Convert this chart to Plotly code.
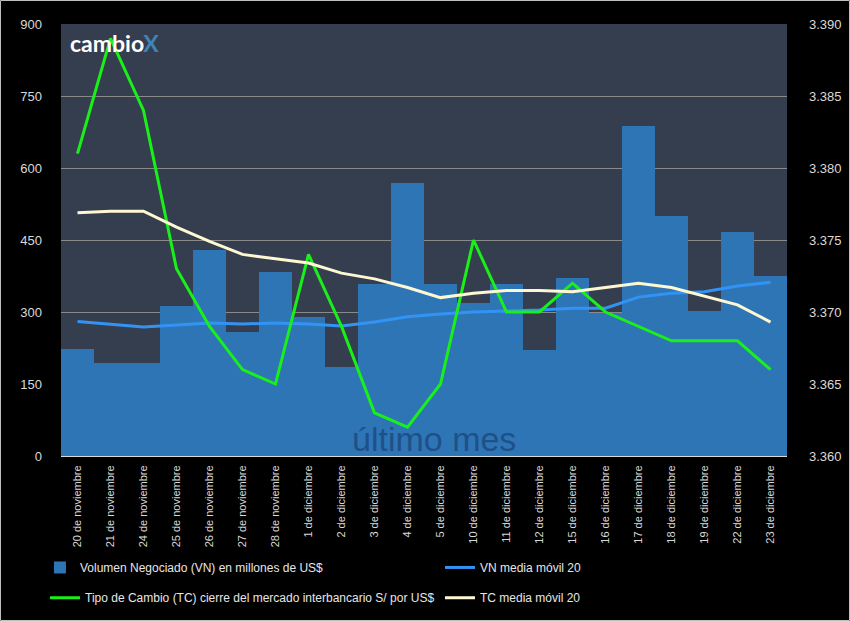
import plotly.graph_objects as go

fechas = ["20 de noviembre", "21 de noviembre", "24 de noviembre", "25 de noviembre",
          "26 de noviembre", "27 de noviembre", "28 de noviembre", "1 de diciembre",
          "2 de diciembre", "3 de diciembre", "4 de diciembre", "5 de diciembre",
          "10 de diciembre", "11 de diciembre", "12 de diciembre", "15 de diciembre",
          "16 de diciembre", "17 de diciembre", "18 de diciembre", "19 de diciembre",
          "22 de diciembre", "23 de diciembre"]

volumen = [223, 194, 194, 313, 429, 259, 383, 290, 185, 358, 569, 358,
           319, 358, 221, 371, 298, 688, 499, 303, 467, 375]

vn_media = [280, 274, 269, 273, 277, 275, 277, 275, 271, 279, 290, 296,
            300, 302, 304, 308, 308, 331, 339, 342, 354, 362]

tc_cierre = [3.381, 3.389, 3.384, 3.373, 3.369, 3.366, 3.365, 3.374, 3.369, 3.363, 3.362, 3.365,
             3.375, 3.370, 3.370, 3.372, 3.370, 3.369, 3.368, 3.368, 3.368, 3.366]

tc_media = [3.3769, 3.3770, 3.3770, 3.3759, 3.3749, 3.3740, 3.3737, 3.3734, 3.3727, 3.3723,
            3.3717, 3.3710, 3.3713, 3.3715, 3.3715, 3.3714, 3.3717, 3.3720, 3.3717, 3.3711,
            3.3705, 3.3693]

nombres = ["Volumen Negociado (VN) en millones de US$", "VN media móvil 20",
           "Tipo de Cambio (TC) cierre del mercado interbancario S/ por US$", "TC media móvil 20"]

FONT = "Liberation Sans, Arial, sans-serif"
TXT = "#d9d9d9"

fig = go.Figure()
fig.add_trace(go.Bar(x=fechas, y=volumen, name=nombres[0], marker=dict(color="#2e75b6", line=dict(width=0)),
                     yaxis="y", legend="legend"))
fig.add_trace(go.Scatter(x=fechas, y=vn_media, name=nombres[1], mode="lines",
                         line=dict(color="#3393f5", width=3), yaxis="y", legend="legend2"))
fig.add_trace(go.Scatter(x=fechas, y=tc_cierre, name=nombres[2], mode="lines",
                         line=dict(color="#19f019", width=3), yaxis="y2", legend="legend3"))
fig.add_trace(go.Scatter(x=fechas, y=tc_media, name=nombres[3], mode="lines",
                         line=dict(color="#fdf8d2", width=3), yaxis="y2", legend="legend4"))

leg_common = dict(orientation="h", xanchor="left", yanchor="middle",
                  font=dict(size=12, color="#e6e6e6", family=FONT), bgcolor="rgba(0,0,0,0)",
                  itemwidth=30)

fig.update_layout(
    template="none",
    width=850, height=621,
    margin=dict(l=61, r=63, t=24, b=165, autoexpand=False),
    paper_bgcolor="black",
    plot_bgcolor="#353e4f",
    bargap=0,
    font=dict(family=FONT, color=TXT, size=12),
    xaxis=dict(tickangle=-90, tickfont=dict(size=11, color=TXT), showgrid=False,
               showline=True, linecolor="#d9d9d9", linewidth=1, ticks="", automargin=False,
               range=[-0.5, len(fechas) - 0.5], ticklabelstandoff=4),
    yaxis=dict(range=[0, 900], tickvals=[0, 150, 300, 450, 600, 750, 900], showgrid=True,
               gridcolor="#8a8a8a", gridwidth=1, zeroline=False, tickfont=dict(size=13, color=TXT),
               ticks="", automargin=False, ticklabelstandoff=18),
    yaxis2=dict(range=[3.360, 3.390], tickvals=[3.360, 3.365, 3.370, 3.375, 3.380, 3.385, 3.390],
                tickformat=".3f", overlaying="y", side="right", showgrid=False, zeroline=False,
                tickfont=dict(size=13, color=TXT), ticks="", automargin=False, ticklabelstandoff=21),
    legend=dict(x=-0.029, y=-0.258, **leg_common),
    legend2=dict(x=0.522, y=-0.258, **leg_common),
    legend3=dict(x=-0.022, y=-0.328, **leg_common),
    legend4=dict(x=0.522, y=-0.328, **leg_common),
    showlegend=True,
)

fig.add_annotation(text="último mes", xref="paper", yref="paper", x=0.514, y=0.04,
                   xanchor="center", yanchor="middle", showarrow=False,
                   font=dict(size=34, color="#1f5087", family=FONT))
fig.add_annotation(text="<b>cambio</b><span style='color:#3f84b8'><b>X</b></span>",
                   xref="paper", yref="paper", x=0.01, y=0.955, xanchor="left", yanchor="middle",
                   showarrow=False, font=dict(size=23, color="white", family="Lato, sans-serif"))

fig.add_shape(type="rect", xref="paper", yref="paper", x0=-60.5 / 726, x1=1 + 62.5 / 726,
              y0=-164.5 / 432, y1=1 + 23.5 / 432, line=dict(color="#bfbfbf", width=1),
              fillcolor="rgba(0,0,0,0)", layer="above")

fig.write_html("out.html", config={"displayModeBar": False},
               post_script="document.body.style.margin='0';")
